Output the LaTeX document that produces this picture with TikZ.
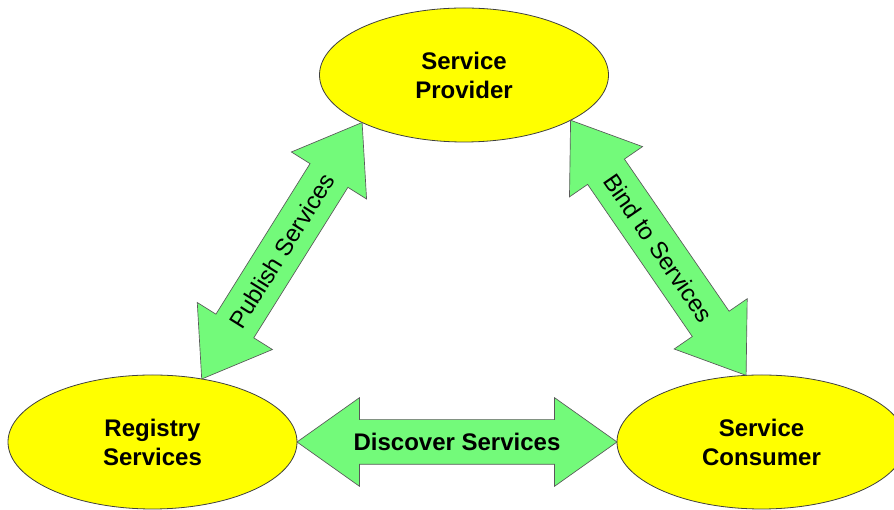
\documentclass[tikz,border=0pt]{standalone}
\usepackage{fontspec}
\setmainfont{Liberation Sans}
\usepackage{tikz}
\usetikzlibrary{shapes.geometric, shapes.arrows, calc}

\definecolor{roleyellow}{RGB}{255,255,0}
\definecolor{arrowgreen}{RGB}{115,250,122}

\begin{document}
\begin{tikzpicture}[x=0.75pt,y=0.75pt,
        role/.style={ellipse,draw=black!75,fill=roleyellow,line width=0.6pt,
          minimum width=216.75pt,minimum height=100.5pt,inner sep=0pt,outer sep=0pt,
          align=center,font=\fontsize{18}{21.75}\selectfont\bfseries},
        blockarrow/.style={double arrow,draw=black!65,fill=arrowgreen,line width=0.5pt,
          inner sep=0pt,inner ysep=16.5pt,outer sep=0pt,minimum width=66pt,
          double arrow head extend=16.5pt,double arrow tip angle=70.7},
        arrowlabel/.style={font=\fontsize{18}{21.75}\selectfont,inner sep=0pt}]

      \clip (0,0) rectangle (894,510);

      \node[role] (provider) at (464,435)   {Service\\Provider};
      \node[role] (registry) at (152.5,68)  {Registry\\Services};
      \node[role] (consumer) at (761.5,68)  {Service\\Consumer};

      % publish: registry <-> provider
      \path let \p1=($(provider.205.6)-(registry.52.4)$), \n1={veclen(\x1,\y1)} in
        (registry.52.4) -- node[blockarrow,sloped,minimum height=\n1] (publish) {}
                           node[arrowlabel,sloped] (publish-text) {Publish Services}
        (provider.205.6);

      % bind: provider <-> consumer
      \path let \p1=($(consumer.103)-(provider.337.4)$), \n1={veclen(\x1,\y1)} in
        (provider.337.4) -- node[blockarrow,sloped,minimum height=\n1] (bind) {}
                            node[arrowlabel,sloped] (bind-text) {Bind to Services}
        (consumer.103);

      % discover: registry <-> consumer
      \path let \p1=($(consumer.180)-(registry.0)$), \n1={veclen(\x1,\y1)} in
        (registry.0) -- node[blockarrow,sloped,minimum height=\n1] (discover) {}
                        node[arrowlabel,sloped,font=\fontsize{18}{21.75}\selectfont\bfseries]
                          (discover-text) {Discover Services}
        (consumer.180);
    \end{tikzpicture}
\end{document}
